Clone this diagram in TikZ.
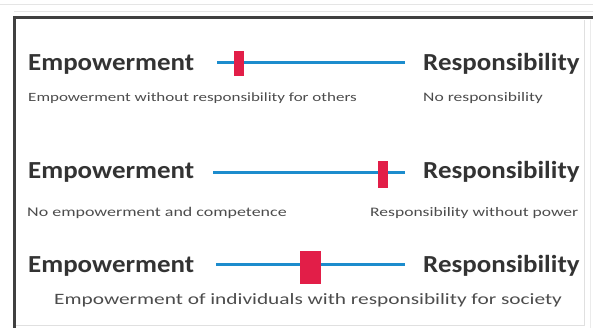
\documentclass[tikz,border=0pt]{standalone}
\usepackage{fontspec}
\setmainfont{Carlito}
\newfontfamily\polefont[FakeStretch=1.1]{Carlito}
\newfontfamily\notefont[FakeStretch=1.35]{Carlito}
\begin{document}
\begin{tikzpicture}[x=1pt,y=-1pt,
  pole/.style={font=\polefont\fontsize{24.5}{28}\selectfont\bfseries, text=black!80, inner sep=0pt, anchor=base west},
  note/.style={font=\notefont\fontsize{13}{15}\selectfont, text=black!70, inner sep=0pt, anchor=base west},
  bignote/.style={font=\notefont\fontsize{15.8}{18}\selectfont, text=black!70, inner sep=0pt, anchor=base west},
  track/.style={line width=3pt, draw={rgb,255:red,28;green,140;blue,205}},
  knob/.style={fill={rgb,255:red,226;green,30;blue,72}, draw=none, inner sep=0pt, minimum width=#1}]
\useasboundingbox (0,0) rectangle (593,328);
% frame
\draw[black!10, line width=1pt] (0,5) -- (593,5);
\draw[black!10, line width=1pt] (14,12) -- (593,12);
\draw[black!75, line width=3pt] (14,328) -- (14,18) -- (593,18);
\draw[black!12, line width=1pt] (584,20) -- (584,325) -- (16,325);
\draw[black!8, line width=1pt] (590,20) -- (590,328);

% row 1
\node[pole] (e1) at (28,71) {Empowerment};
\node[pole] (r1) at (423,71) {Responsibility};
\coordinate (s1) at (217,63);
\coordinate (t1) at (405,63);
\draw[track] (s1) -- (t1);
\node[knob=10pt, minimum height=25pt] (k1) at (239,63.5) {};
\node[note, font=\notefont\fontsize{12.6}{15}\selectfont] (n1) at (28,102) {Empowerment without responsibility for others};
\node[note] (m1) at (423,102) {No responsibility};

% row 2
\node[pole] (e2) at (28,179) {Empowerment};
\node[pole] (r2) at (423,179) {Responsibility};
\coordinate (s2) at (213,173);
\coordinate (t2) at (405,173);
\draw[track] (s2) -- (t2);
\node[knob=10pt, minimum height=27pt] (k2) at (383,174.5) {};
\node[note, font=\notefont\fontsize{13.3}{15}\selectfont] (n2) at (27,217) {No empowerment and competence};
\node[note] (m2) at (370,217) {Responsibility without power};

% row 3
\node[pole] (e3) at (28,272) {Empowerment};
\node[pole] (r3) at (423,272) {Responsibility};
\coordinate (s3) at (216,264);
\coordinate (t3) at (405,264);
\draw[track] (s3) -- (t3);
\node[knob=21pt, minimum height=33pt] (k3) at (310.5,267.5) {};
\node[bignote] (n3) at (54,304) {Empowerment of individuals with responsibility for society};
\end{tikzpicture}
\end{document}
